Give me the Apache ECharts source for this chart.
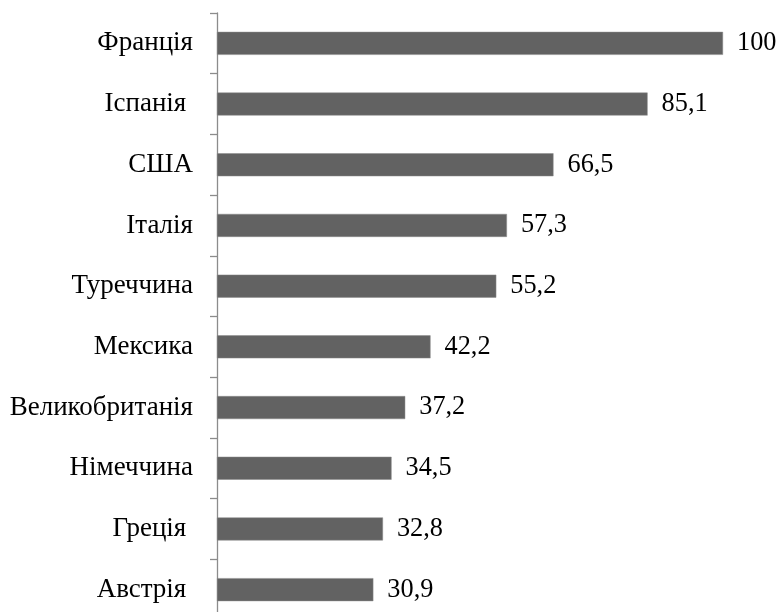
<!DOCTYPE html>
<html><head><meta charset="utf-8">
<script src="https://cdn.jsdelivr.net/npm/echarts@6/dist/echarts.min.js"></script>
<style>html,body{margin:0;padding:0;background:#fff;overflow:hidden}#c{width:778px;height:620px}</style>
</head><body><div id="c"></div>
<script>
const categories = ['Франція','Іспанія ','США','Італія','Туреччина','Мексика','Великобританія','Німеччина','Греція ','Австрія '];
const values = [100, 85.1, 66.5, 57.3, 55.2, 42.2, 37.2, 34.5, 32.8, 30.9];
const chart = echarts.init(document.getElementById('c'), null, {renderer:'canvas'});
const font = 'Liberation Serif';
chart.setOption({
  animation: false,
  grid: {left: 217, top: 13, right: 55, bottom: 0, containLabel: false},
  xAxis: {type: 'value', min: 0, max: 100, show: false},
  yAxis: {
    type: 'category', data: categories, inverse: true,
    axisLine: {show: true, lineStyle: {color: '#8c8c8c', width: 1.3}},
    axisTick: {show: true, length: 7, lineStyle: {color: '#8c8c8c', width: 1.3}},
    axisLabel: {fontFamily: font, fontSize: 27, color: '#000', margin: 24}
  },
  series: [{
    type: 'bar', data: values, barWidth: 23,
    itemStyle: {color: '#626262', borderColor: '#8a8a8a', borderWidth: 0.5},
    label: {show: true, position: 'right', distance: 14, fontFamily: font, fontSize: 26.3, color: '#000',
      formatter: p => String(p.value).replace('.', ',')}
  }]
});
</script></body></html>
